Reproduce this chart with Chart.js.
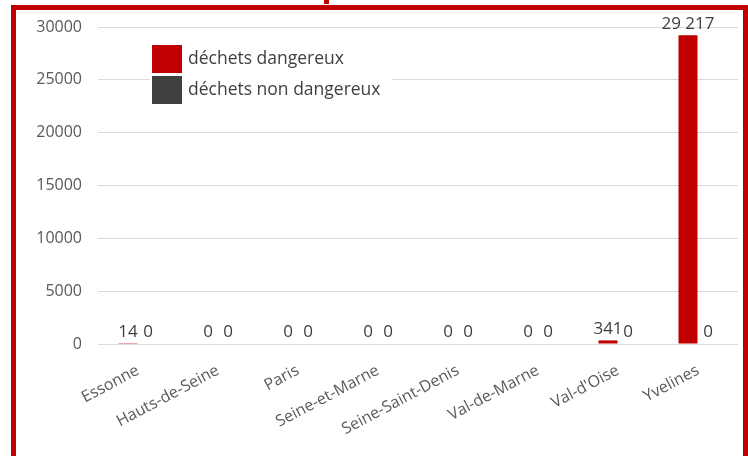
<!DOCTYPE html>
<html>
<head>
<meta charset="utf-8">
<script src="https://cdn.jsdelivr.net/npm/chart.js@4"></script>
<style>
  body { margin: 0; background: #fff; }
  #wrap { position: relative; width: 748px; height: 456px; overflow: hidden; }
  #frame {
    position: absolute; left: 11px; top: 5px; width: 727px; height: 480px;
    border: 5px solid #c00000; box-sizing: content-box;
  }
  #titleBit { position: absolute; left: 324px; top: 0; width: 5px; height: 4px; background: #c00000; }
  canvas { position: absolute; left: 0; top: 0; }
</style>
</head>
<body>
<div id="wrap">
  <div id="titleBit"></div>
  <div id="frame"></div>
  <canvas id="wasteChart" width="748" height="456"></canvas>
</div>
<script>
/* ==========================================================
   DATA
========================================================== */
const departements = ["Essonne", "Hauts-de-Seine", "Paris", "Seine-et-Marne",
    "Seine-Saint-Denis", "Val-de-Marne", "Val-d'Oise", "Yvelines"];
const dangereux = [14, 0, 0, 0, 0, 0, 341, 29217];
const nonDangereux = [0, 0, 0, 0, 0, 0, 0, 0];
const yTicks = [0, 5000, 10000, 15000, 20000, 25000, 30000];

const RED = "#c00000";
const DARK = "#404040";
const FONT = "'Open Sans', 'Liberation Sans', sans-serif";

function fmt(v) {
    return String(v).replace(/\B(?=(\d{3})+(?!\d))/g, " ");
}

/* ==========================================================
   PLUGINS : value labels + legend box
========================================================== */
const valueLabels = {
    id: "valueLabels",
    afterDatasetsDraw(chart) {
        const ctx = chart.ctx;
        ctx.save();
        ctx.font = "17px " + FONT;
        ctx.fillStyle = DARK;
        ctx.textAlign = "center";
        ctx.textBaseline = "bottom";
        chart.data.datasets.forEach((ds, i) => {
            chart.getDatasetMeta(i).data.forEach((bar, j) => {
                ctx.fillText(fmt(ds.data[j]), bar.x, bar.y - 3);
            });
        });
        ctx.restore();
    }
};

const boxLegend = {
    id: "boxLegend",
    afterDraw(chart) {
        const ctx = chart.ctx;
        ctx.save();
        ctx.fillStyle = "#fff";
        ctx.fillRect(150, 44, 242, 62);
        ctx.font = "17.5px " + FONT;
        ctx.textBaseline = "middle";
        ctx.textAlign = "left";
        chart.data.datasets.forEach((ds, i) => {
            const y = 45 + i * 31;
            ctx.fillStyle = ds.backgroundColor;
            ctx.fillRect(152, y, 30, 28);
            ctx.fillStyle = DARK;
            ctx.fillText(ds.label, 188, y + 14);
        });
        ctx.restore();
    }
};

/* ==========================================================
   CHART
========================================================== */
const ctx = document.getElementById("wasteChart").getContext("2d");

new Chart(ctx, {
    type: "bar",
    data: {
        labels: departements,
        datasets: [
            {
                label: "déchets dangereux",
                data: dangereux,
                backgroundColor: RED,
                categoryPercentage: 0.5,
                barPercentage: 0.95
            },
            {
                label: "déchets non dangereux",
                data: nonDangereux,
                backgroundColor: DARK,
                categoryPercentage: 0.5,
                barPercentage: 0.95
            }
        ]
    },
    options: {
        responsive: false,
        devicePixelRatio: 1,
        animation: false,
        layout: { padding: { left: 20, top: 27, right: 10, bottom: 0 } },
        plugins: {
            legend: { display: false },
            tooltip: { enabled: false }
        },
        scales: {
            x: {
                grid: { display: false, drawTicks: false },
                border: { display: false },
                ticks: {
                    color: "#595959",
                    font: { family: FONT, size: 16 },
                    minRotation: 28,
                    maxRotation: 28,
                    autoSkip: false,
                    padding: 17
                },
                afterFit(scale) { scale.height = 112; }
            },
            y: {
                min: 0,
                max: 30000,
                afterBuildTicks(scale) {
                    scale.ticks = yTicks.map(v => ({ value: v }));
                },
                grid: { color: "#d9d9d9", drawTicks: false },
                border: { display: false },
                ticks: {
                    color: "#595959",
                    font: { family: FONT, size: 16 },
                    padding: 16,
                    callback: (v) => String(v)
                },
                afterFit(scale) { scale.width = 78; }
            }
        }
    },
    plugins: [valueLabels, boxLegend]
});
</script>
</body>
</html>
